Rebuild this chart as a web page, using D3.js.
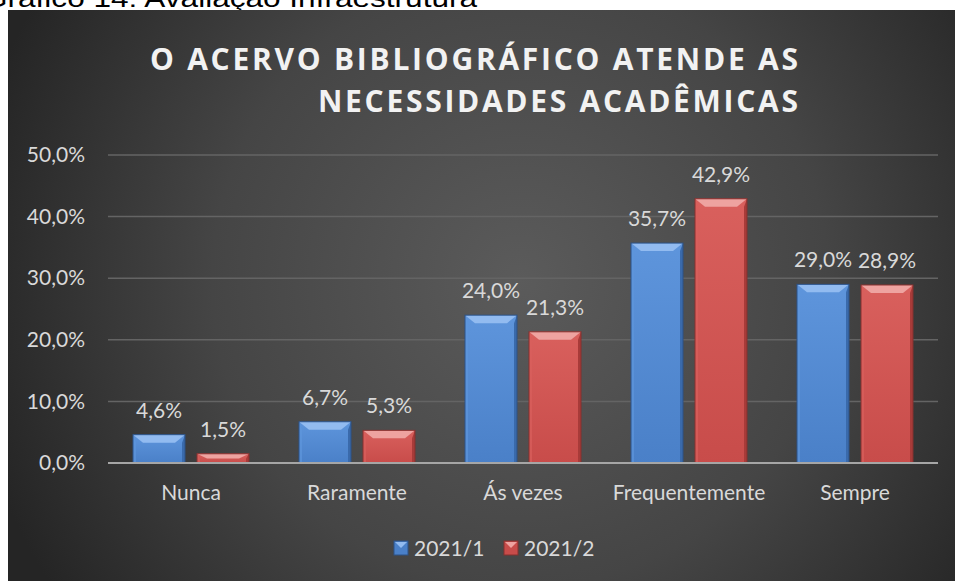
<!DOCTYPE html>
<html>
<head>
<meta charset="utf-8">
<script src="https://cdn.jsdelivr.net/npm/d3@7"></script>
<style>
  body { margin: 0; background: #fff; }
  svg { display: block; }
</style>
</head>
<body>
<script>
// chart size
var w = 955;
var h = 581;

// data
const categories = ["Nunca", "Raramente", "Ás vezes", "Frequentemente", "Sempre"];
const seriesNames = ["2021/1", "2021/2"];
const values2021_1 = [4.6, 6.7, 24.0, 35.7, 29.0];
const values2021_2 = [1.5, 5.3, 21.3, 42.9, 28.9];
const yTicks = [0, 10, 20, 30, 40, 50];
const titleLines = ["O ACERVO BIBLIOGRÁFICO ATENDE AS", "NECESSIDADES ACADÊMICAS"];
const caption = "Gráfico 14: Avaliação Infraestrutura";

const fmt = v => v.toFixed(1).replace(".", ",") + "%";

// colors for each series
const palette = [
  { light: "#5e95dc", body: "#4a80c8", top: "#92bbf0", side: "#3a6aab", dark: "#2c5287" },
  { light: "#d9605d", body: "#c84c4a", top: "#eea3a0", side: "#a83b39", dark: "#86302e" }
];

const svg = d3.select("body")
  .append("svg")
    .attr("width", w)
    .attr("height", h);

const defs = svg.append("defs");
const bg = defs.append("radialGradient")
  .attr("id", "bg")
  .attr("gradientUnits", "userSpaceOnUse")
  .attr("cx", 520).attr("cy", 280).attr("r", 560);
bg.append("stop").attr("offset", "0%").attr("stop-color", "#5b5b5b");
bg.append("stop").attr("offset", "55%").attr("stop-color", "#454545");
bg.append("stop").attr("offset", "100%").attr("stop-color", "#252525");

palette.forEach((c, i) => {
  const g = defs.append("linearGradient")
    .attr("id", "barGrad" + i)
    .attr("x1", 0).attr("y1", 0).attr("x2", 0).attr("y2", 1);
  g.append("stop").attr("offset", "0%").attr("stop-color", c.light);
  g.append("stop").attr("offset", "100%").attr("stop-color", c.body);
});

// caption above the panel (cut off)
svg.append("text")
  .attr("x", -17)
  .attr("y", 7)
  .attr("textLength", 494)
  .attr("lengthAdjust", "spacingAndGlyphs")
  .style("font-family", "Liberation Sans, Arial, sans-serif")
  .style("font-size", "25px")
  .attr("fill", "#000")
  .text(caption);

// chart panel
svg.append("rect")
  .attr("x", 8).attr("y", 10)
  .attr("width", 947).attr("height", 571)
  .attr("fill", "url(#bg)");

// title
const titleEnd = 798;
const titleLens = [648, 480];
svg.selectAll(".title")
  .data(titleLines)
  .enter()
  .append("text")
    .attr("class", "title")
    .attr("x", titleEnd)
    .attr("y", (d, i) => 70 + i * 42)
    .attr("text-anchor", "end")
    .attr("textLength", (d, i) => titleLens[i])
    .attr("lengthAdjust", "spacing")
    .style("font-family", "Open Sans, sans-serif")
    .style("font-weight", "bold")
    .style("font-size", "30px")
    .attr("fill", "#f2f2f2")
    .text(d => d);

// scales
const xScale = d3.scaleBand()
  .domain(categories)
  .range([108, 938]);

const yScale = d3.scaleLinear()
  .domain([0, 50])
  .range([463, 155]);

const barW = 52;
const barGap = 12;
const groupOffset = (xScale.bandwidth() - (2 * barW + barGap)) / 2;

// gridlines
svg.selectAll(".grid")
  .data(yTicks.slice(1))
  .enter()
  .append("line")
    .attr("x1", 108).attr("x2", 938)
    .attr("y1", d => yScale(d)).attr("y2", d => yScale(d))
    .attr("stroke", "#646464")
    .attr("stroke-width", 1.5);

// y axis labels
const yAxis = d3.axisLeft(yScale)
  .tickValues(yTicks)
  .tickFormat(fmt)
  .tickSize(0)
  .tickPadding(23);

const yG = svg.append("g")
  .attr("transform", "translate(108,0)")
  .call(yAxis);
yG.select(".domain").remove();
yG.selectAll("text")
  .style("font-family", "Lato, sans-serif")
  .style("font-size", "21px")
  .attr("fill", "#d9d9d9");

// bars
const series = [values2021_1, values2021_2];
const bars = [];
series.forEach((vals, s) => {
  vals.forEach((v, i) => {
    bars.push({ s: s, cat: categories[i], v: v });
  });
});

function barX(d) {
  return xScale(d.cat) + groupOffset + d.s * (barW + barGap);
}

const barG = svg.selectAll(".bar")
  .data(bars)
  .enter()
  .append("g")
    .attr("class", "bar");

barG.each(function(d) {
  const g = d3.select(this);
  const x0 = barX(d), x1 = x0 + barW;
  const y0 = yScale(d.v), y1 = yScale(0);
  const b = Math.min(8, (y1 - y0) / 2);
  const s = 3;
  const c = palette[d.s];
  g.append("rect")
    .attr("x", x0).attr("y", y0)
    .attr("width", barW).attr("height", y1 - y0)
    .attr("fill", "url(#barGrad" + d.s + ")");
  // left edge
  g.append("polygon")
    .attr("points", [[x0, y0], [x0 + s, y0 + b], [x0 + s, y1], [x0, y1]].join(" "))
    .attr("fill", c.light)
    .attr("opacity", 0.7);
  // right edge
  g.append("polygon")
    .attr("points", [[x1, y0], [x1 - s, y0 + b], [x1 - s, y1], [x1, y1]].join(" "))
    .attr("fill", c.side);
  // top facet
  g.append("polygon")
    .attr("points", [[x0, y0], [x1, y0], [x1 - 10, y0 + b], [x0 + 10, y0 + b]].join(" "))
    .attr("fill", c.top);
  g.append("rect")
    .attr("x", x0).attr("y", y0)
    .attr("width", barW).attr("height", y1 - y0)
    .attr("fill", "none")
    .attr("stroke", c.dark)
    .attr("stroke-width", 1);
});

// data labels
svg.selectAll(".label")
  .data(bars)
  .enter()
  .append("text")
    .attr("class", "label")
    .attr("x", d => barX(d) + barW / 2)
    .attr("y", d => yScale(d.v) - 17)
    .attr("text-anchor", "middle")
    .style("font-family", "Lato, sans-serif")
    .style("font-size", "21px")
    .attr("fill", "#d9d9d9")
    .text(d => fmt(d.v));

// baseline
svg.append("line")
  .attr("x1", 108).attr("x2", 938)
  .attr("y1", yScale(0)).attr("y2", yScale(0))
  .attr("stroke", "#a6a6a6")
  .attr("stroke-width", 2);

// category labels
const xAxis = d3.axisBottom(xScale)
  .tickSize(0)
  .tickPadding(22);
const xG = svg.append("g")
  .attr("transform", `translate(0, ${yScale(0)})`)
  .call(xAxis);
xG.select(".domain").remove();
xG.selectAll("text")
  .style("font-family", "Lato, sans-serif")
  .style("font-size", "21px")
  .attr("fill", "#d9d9d9");

// legend
const legendX = [394, 504];
const legend = svg.selectAll(".legend")
  .data(seriesNames)
  .enter()
  .append("g")
    .attr("class", "legend")
    .attr("transform", (d, i) => `translate(${legendX[i]}, 541)`);

legend.append("rect")
  .attr("width", 14).attr("height", 14)
  .attr("fill", (d, i) => palette[i].body)
  .attr("stroke", (d, i) => palette[i].dark);
legend.append("polygon")
  .attr("points", "1,1 13,1 7,7")
  .attr("fill", (d, i) => palette[i].top);

legend.append("text")
  .attr("x", 20)
  .attr("y", 15)
  .style("font-family", "Lato, sans-serif")
  .style("font-size", "21px")
  .attr("fill", "#d9d9d9")
  .text(d => d);
</script>
</body>
</html>
